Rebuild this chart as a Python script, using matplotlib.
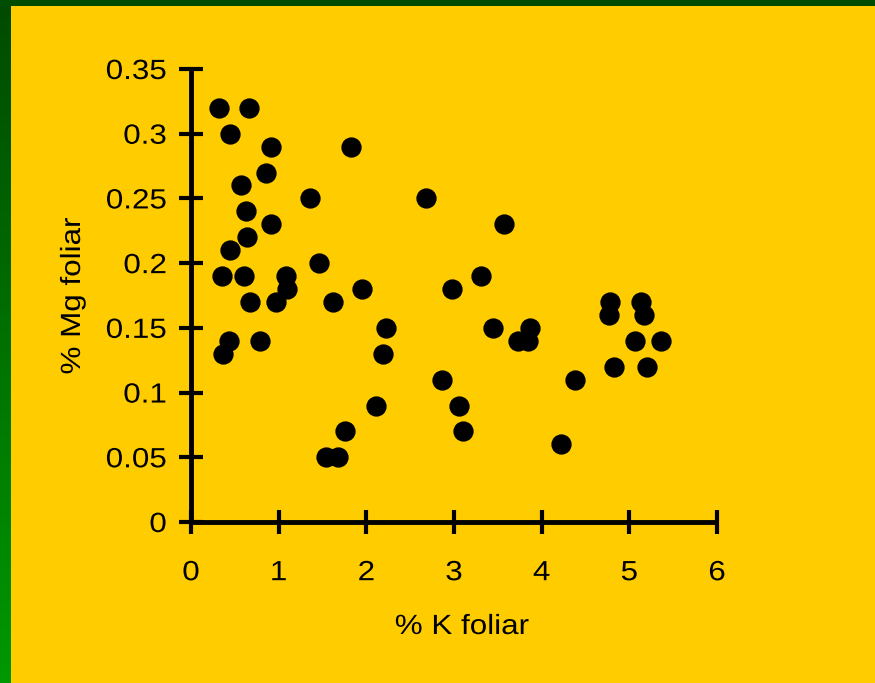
import numpy as np
import matplotlib
matplotlib.use("Agg")
import matplotlib.pyplot as plt
from matplotlib.colors import LinearSegmentedColormap
from matplotlib.patheffects import AbstractPathEffect
from matplotlib.transforms import Affine2D

# Data
k_foliar = [0.32, 0.66, 0.44, 0.91, 1.82, 0.86, 0.57, 1.36, 2.68, 0.63,
            0.91, 3.57, 0.64, 0.44, 0.35, 0.60, 1.08, 1.46, 1.09, 1.95,
            2.98, 3.31, 0.67, 0.97, 1.62, 4.78, 5.13, 4.77, 5.17, 2.23,
            3.45, 3.87, 3.73, 3.84, 0.43, 0.79, 5.07, 5.36, 0.36, 2.19,
            2.86, 4.38, 4.83, 5.20, 2.11, 3.06, 1.76, 3.10, 1.54, 1.68,
            4.22]
mg_foliar = [0.32, 0.32, 0.30, 0.29, 0.29, 0.27, 0.26, 0.25, 0.25, 0.24,
             0.23, 0.23, 0.22, 0.21, 0.19, 0.19, 0.19, 0.20, 0.18, 0.18,
             0.18, 0.19, 0.17, 0.17, 0.17, 0.17, 0.17, 0.16, 0.16, 0.15,
             0.15, 0.15, 0.14, 0.14, 0.14, 0.14, 0.14, 0.14, 0.13, 0.13,
             0.11, 0.11, 0.12, 0.12, 0.09, 0.09, 0.07, 0.07, 0.05, 0.05,
             0.06]
x_ticks = [0, 1, 2, 3, 4, 5, 6]
y_ticks = [0, 0.05, 0.1, 0.15, 0.2, 0.25, 0.3, 0.35]
y_tick_labels = ["0", "0.05", "0.1", "0.15", "0.2", "0.25", "0.3", "0.35"]
x_label = "% K foliar"
y_label = "% Mg foliar"

BG = "#FFCC00"
W, H = 875, 683
plt.rcParams['font.family'] = ['Liberation Sans', 'DejaVu Sans']


class Stretch(AbstractPathEffect):
    """Widen text horizontally (the reference font is slightly stretched)."""

    def __init__(self, sx, anchor='center'):
        super().__init__()
        self.sx = sx
        self.anchor = anchor

    def draw_path(self, renderer, gc, tpath, affine, rgbFace=None):
        ext = tpath.get_extents()
        cx = {'center': (ext.x0 + ext.x1) / 2, 'right': ext.x1,
              'left': ext.x0}[self.anchor]
        t = Affine2D().translate(-cx, 0).scale(self.sx, 1).translate(cx, 0) + affine
        renderer.draw_path(gc, tpath, t, rgbFace)


SX = 1.13

fig = plt.figure(figsize=(W / 100, H / 100), dpi=100, facecolor=BG)

# green frame: left gradient strip and top strip
left = fig.add_axes([0, 0, 11 / W, 1])
left.axis('off')
grad = np.linspace(0, 1, 256).reshape(-1, 1)
cmap = LinearSegmentedColormap.from_list('g', ['#004A00', '#009800'])
left.imshow(grad, aspect='auto', cmap=cmap, extent=[0, 1, 0, 1], origin='upper')
top = fig.add_axes([0, 1 - 6 / H, 1, 6 / H])
top.axis('off')
top.add_patch(plt.Rectangle((0, 0), 1, 1, transform=top.transAxes, color='#004D00'))

ax = fig.add_axes([191 / W, 1 - 522 / H, (717 - 191) / W, (522 - 69) / H])
ax.set_facecolor(BG)
ax.scatter(k_foliar, mg_foliar, s=185, color='black', zorder=3, clip_on=False)
ax.set_xlim(0, 6)
ax.set_ylim(0, 0.35)
ax.set_xticks(x_ticks)
ax.set_xticklabels([str(t) for t in x_ticks])
ax.set_yticks(y_ticks)
ax.set_yticklabels(y_tick_labels)
for s in ['top', 'right']:
    ax.spines[s].set_visible(False)
for s in ['left', 'bottom']:
    ax.spines[s].set_linewidth(3.5)
    ax.spines[s].set_color('black')
    ax.spines[s].set_capstyle('butt')
ax.tick_params(axis='both', direction='inout', length=17, width=3, colors='black',
               labelsize=20)
ax.tick_params(axis='y', pad=9)
ax.tick_params(axis='x', pad=19)

for lab in ax.get_yticklabels():
    lab.set_path_effects([Stretch(SX, 'right')])
for lab in ax.get_xticklabels():
    lab.set_path_effects([Stretch(SX, 'center')])

ax.set_xlabel(x_label, fontsize=20, va='center', path_effects=[Stretch(SX, 'center')])
ax.xaxis.set_label_coords((462 - 191) / (717 - 191), (522 - 627) / (522 - 69))
ax.set_ylabel(y_label, fontsize=20, va='center', path_effects=[Stretch(SX, 'center')])
ax.yaxis.set_label_coords((73 - 191) / (717 - 191), (522 - 296) / (522 - 69))

fig.savefig("out.png", dpi=100, facecolor=BG)
